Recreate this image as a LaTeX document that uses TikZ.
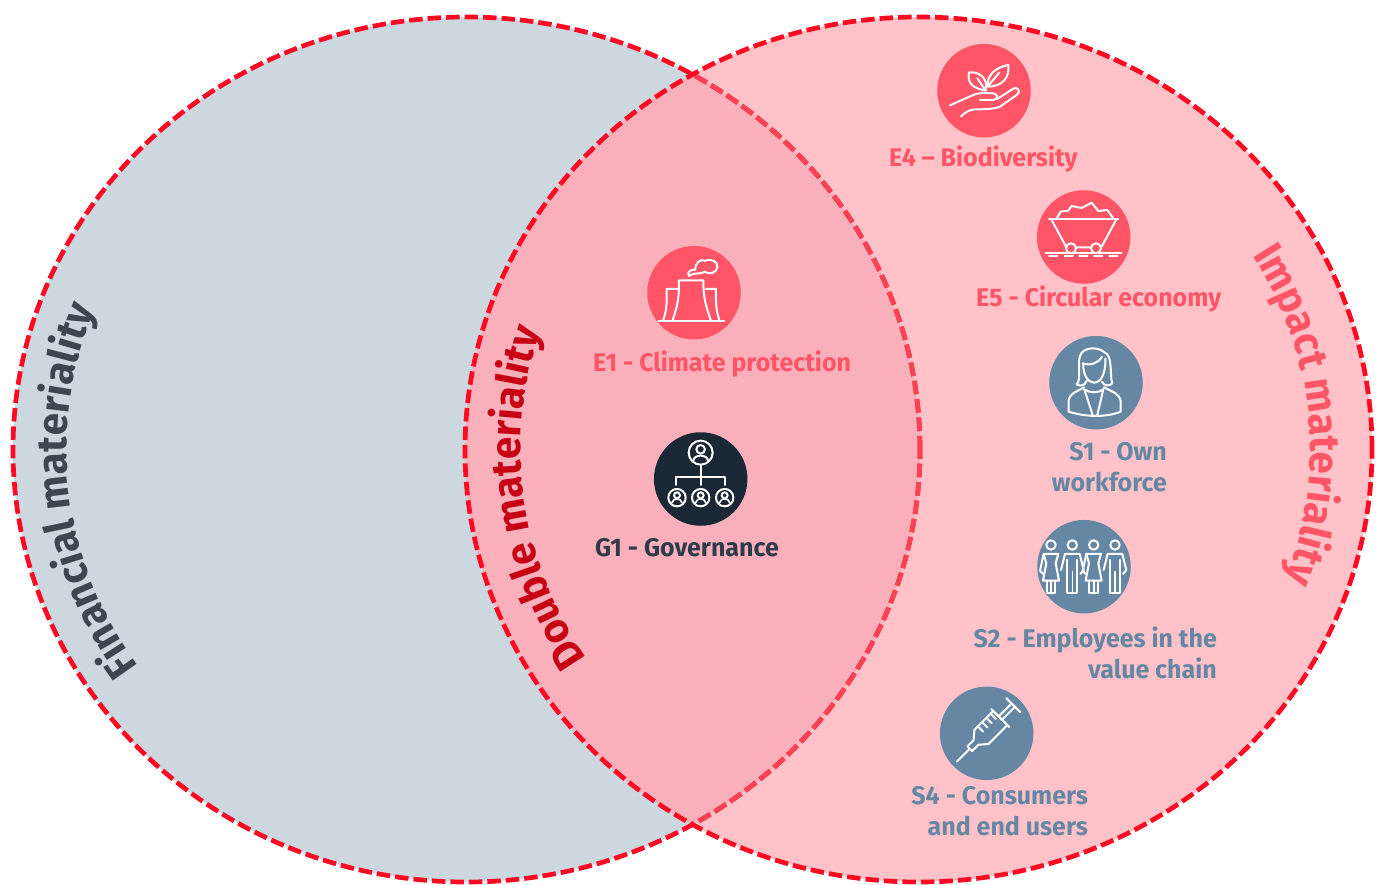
\documentclass[tikz,border=0pt]{standalone}
\usepackage{fontspec}
\usetikzlibrary{decorations.text}
\setmainfont{Fira Sans}[FakeStretch=0.98]
\newfontfamily\curvefont{Fira Sans}[FakeStretch=0.96]
\definecolor{leftfill}{HTML}{CDD7E0}
\definecolor{rightfill}{HTML}{FFC2C8}
\definecolor{bothfill}{HTML}{F9B0BA}
\definecolor{ringred}{HTML}{FF0A22}
\definecolor{ringsoft}{HTML}{FB4255}
\definecolor{coral}{HTML}{FF5566}
\definecolor{steel}{HTML}{6587A4}
\definecolor{navy}{HTML}{1A2735}
\definecolor{slate}{HTML}{2F3B49}
\definecolor{finance}{HTML}{3D4752}
\definecolor{doublered}{HTML}{C80014}
\tikzset{
 ring/.style={line width=4.7pt,dash pattern=on 13.5pt off 5pt},
 disc/.style={circle,minimum size=93.5pt,inner sep=0pt},
 lab/.style={font=\bfseries\fontsize{25.5}{31}\selectfont,inner sep=0pt},
 ico/.style={draw=white,line width=2pt,line cap=round,line join=round,fill=none},
}
\newcommand{\Lring}{(466.5,449.5) ellipse [x radius=453.5pt,y radius=432.5pt]}
\newcommand{\Rring}{(918.5,449.5) ellipse [x radius=453.5pt,y radius=432.5pt]}
\begin{document}
\begin{tikzpicture}[x=1pt,y=-1pt]
\useasboundingbox (0,0) rectangle (1378,885);
\fill[leftfill] \Lring;
\fill[rightfill] \Rring;
\begin{scope}
 \clip \Lring;
 \fill[bothfill] \Rring;
\end{scope}
\draw[ring,ringred] \Lring;
\begin{scope}
 \clip \Rring;
 \draw[ring,ringsoft] \Lring;
\end{scope}
\draw[ring,ringred] \Rring;

% curved titles
\path[decorate,decoration={text along path,text align=center,
  text={|\curvefont\bfseries\fontsize{42}{42}\selectfont\color{finance}|Financial materiality}}]
  (466.5,449.5) ++(231.5:400pt and 378pt) arc[start angle=231.5,end angle=141.5,x radius=400pt,y radius=378pt];
\path[decorate,decoration={text along path,text align=center,
  text={|\curvefont\bfseries\fontsize{42}{42}\selectfont\color{doublered}|Double materiality}}]
  (918.5,449.5) ++(232.5:398pt and 377pt) arc[start angle=232.5,end angle=142.5,x radius=398pt,y radius=377pt];
\path[decorate,decoration={text along path,text align=center,
  text={|\curvefont\bfseries\fontsize{42}{42}\selectfont\color{coral}|Impact materiality}}]
  (918.5,449.5) ++(50.4:392pt and 370pt) arc[start angle=50.4,end angle=-39.6,x radius=392pt,y radius=370pt];

% discs
\node[disc,fill=coral] (e4) at (984,90.7) {};
\node[disc,fill=coral] (e5) at (1083.7,237) {};
\node[disc,fill=coral] (e1) at (694,292.7) {};
\node[disc,fill=navy] (g1) at (700.7,479) {};
\node[disc,fill=steel] (s1) at (1096,382.7) {};
\node[disc,fill=steel] (s2) at (1084,566.7) {};
\node[disc,fill=steel] (s4) at (986.7,733.3) {};

% labels
\node[lab,text=coral,anchor=base west] (te4) at (889,167) {E4 – Biodiversity};
\node[lab,text=coral,anchor=base west] (te5) at (976,306) {E5 - Circular economy};
\node[lab,text=coral,anchor=base west] (te1) at (593,371) {E1 - Climate protection};
\node[lab,text=slate,anchor=base west] (tg1) at (595,556) {G1 - Governance};
\node[lab,text=steel,align=right,anchor=base east] (ts1) at (1167,491) {S1 - Own\\workforce};
\node[lab,text=steel,align=right,anchor=base east] (ts2) at (1217,678) {S2 - Employees in the\\value chain};
\node[lab,text=steel,align=right,anchor=base east] (ts4) at (1088,835) {S4 - Consumers\\and end users};

% E4 and E5 icons (zoom coordinates)
\begin{scope}[shift={(900,30)},x=0.3333pt,y=-0.3333pt]
 \draw[ico] (150,226) -- (215,197) .. controls (228,190) and (245,188) .. (280,190)
   .. controls (295,192) and (295,208) .. (280,210) -- (240,210);
 \draw[ico] (290,208) -- (340,176) .. controls (352,168) and (365,185) .. (350,195)
   -- (300,230) .. controls (280,238) and (250,238) .. (225,238) .. controls (205,240) and (195,248) .. (183,259);
 \draw[ico] (257,182) .. controls (220,175) and (200,160) .. (207,127)
   .. controls (235,125) and (265,140) .. (257,182) -- (232,145);
 \draw[ico] (262,170) .. controls (262,130) and (290,112) .. (325,105)
   .. controls (330,145) and (305,170) .. (262,170) -- (298,128);
 \draw[ico] (447,568) -- (655,568);
 \draw[ico] (455,570) -- (498,650) (605,650) -- (648,570) (528,652) -- (574,652);
 \draw[ico] (513,655) circle [radius=5pt] (588,655) circle [radius=5pt];
 \draw[ico] (436,670) -- (665,670);
 \foreach \q in {447,494,538,582,628} \draw[ico,line width=1.6pt] (\q,678) -- ++(25,0);
 \draw[ico] (470,565) -- (482,545) -- (505,542) -- (515,528) -- (545,534) -- (575,518) -- (595,543) -- (622,540) -- (640,565);
\end{scope}

% E1 and G1 icons
\begin{scope}[shift={(580,240)},x=0.3333pt,y=-0.3333pt]
 \draw[ico] (235,242) -- (433,242);
 \draw[ico] (278,240) .. controls (295,190) and (297,170) .. (297,121) -- (370,121)
   .. controls (370,170) and (375,190) .. (392,240);
 \draw[ico] (250,240) .. controls (262,205) and (260,180) .. (260,147) -- (293,147);
 \draw[ico] (378,147) -- (408,147) .. controls (408,180) and (406,205) .. (418,240);
 \draw[ico] (327,108) .. controls (318,98) and (335,85) .. (345,90) .. controls (345,70) and (360,55) .. (375,62)
   .. controls (395,55) and (415,65) .. (412,82) .. controls (410,100) and (385,105) .. (375,95)
   .. controls (360,105) and (345,95) .. (327,108);
 % G1
 \draw[ico] (362,638) circle [radius=12pt] (362,628) circle [radius=4.3pt];
 \draw[ico] (340,662) .. controls (342,642) and (382,642) .. (384,662);
 \draw[ico] (362,677) -- (362,735) (288,735) -- (288,710) -- (436,710) -- (436,735);
 \foreach \q in {291,362,434} {
  \draw[ico] (\q,773) circle [radius=8.7pt] (\q,766) circle [radius=3pt];
  \draw[ico,line width=1.6pt] (\q-15,788) .. controls (\q-12,773) and (\q+12,773) .. (\q+15,788);
 }
\end{scope}

% S1 and S2 icons
\begin{scope}[shift={(900,330)},x=0.3333pt,y=-0.3333pt]
 \draw[ico] (506,245) -- (506,212) .. controls (508,190) and (535,182) .. (553,172);
 \draw[ico] (506,245) .. controls (560,262) and (620,262) .. (662,245) -- (662,212)
   .. controls (658,190) and (630,182) .. (612,172);
 \draw[ico] (553,178) -- (578,255) (610,178) -- (592,255);
 \draw[ico] (553,178) .. controls (570,190) and (595,190) .. (610,178);
 \draw[ico] (550,100) .. controls (548,135) and (565,158) .. (582,158) .. controls (600,158) and (618,135) .. (616,85);
 \draw[ico] (548,100) .. controls (570,108) and (595,100) .. (606,80);
 \draw[ico] (530,163) .. controls (545,150) and (532,100) .. (540,78) .. controls (548,50) and (595,50) .. (612,66)
   .. controls (640,75) and (628,135) .. (637,160) .. controls (628,170) and (612,168) .. (606,155);
 \draw[ico] (530,163) .. controls (540,170) and (555,168) .. (560,152);
 \foreach \q in {453,581} {
  \draw[ico] (\q,645) circle [radius=4.7pt];
  \draw[ico] (\q-22,672) -- (\q+22,672) -- (\q+14,700) -- (\q+24,752) -- (\q-24,752) -- (\q-14,700) -- cycle;
  \draw[ico] (\q-13,752) -- (\q-13,790) -- (\q+13,790) -- (\q+13,752) (\q,752) -- (\q,790);
  \draw[ico] (\q-22,672) -- (\q-33,722) -- (\q-24,732);
 }
 \foreach \q in {517,645} {
  \draw[ico] (\q,645) circle [radius=4.7pt];
  \draw[ico] (\q-22,672) -- (\q+22,672) -- (\q+34,720) -- (\q+24,732);
  \draw[ico] (\q-22,672) -- (\q-34,720);
  \draw[ico] (\q-15,690) -- (\q-15,790) -- (\q+15,790) -- (\q+15,690);
  \draw[ico,line width=1.6pt] (\q,725) -- (\q,790);
 }
\end{scope}

% S4 icon: axis-aligned syringe
\begin{scope}[shift={(956.7,761.7)},x={(0.2357pt,0.2357pt)},y={(0.2357pt,-0.2357pt)}]
 \draw[ico] (0,0) -- (55,0);
 \draw[ico] (55,-10) -- (82,-10) -- (105,-30) -- (185,-30) -- (185,30) -- (105,30) -- (82,10) -- (55,10) -- cycle;
 \foreach \q in {120,138,156,174} \draw[ico] (\q,-30) -- (\q,-8);
 \draw[ico] (185,-38) -- (185,38);
 \draw[ico] (185,-7) -- (240,-7) (185,7) -- (240,7);
 \draw[ico] (240,-30) -- (240,30);
\end{scope}
\end{tikzpicture}
\end{document}
